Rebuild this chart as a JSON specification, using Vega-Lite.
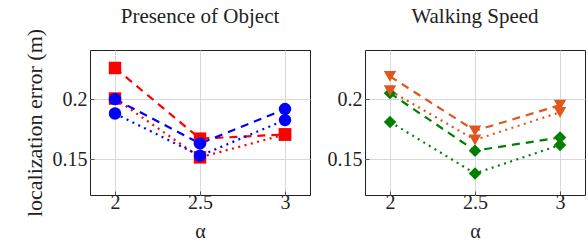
{
  "$schema": "https://vega.github.io/schema/vega-lite/v6.json",
  "padding": {"left": 22, "top": 5, "right": 0, "bottom": 0},
  "spacing": 55,
  "bounds": "flush",
  "config": {
    "font": "Times New Roman",
    "view": {"stroke": "#222222", "strokeWidth": 1},
    "axis": {
      "domain": false,
      "grid": true,
      "gridColor": "#d8d8d8",
      "gridWidth": 1,
      "tickSize": -4,
      "tickColor": "#555555",
      "labelFont": "Times New Roman",
      "titleFont": "Times New Roman",
      "labelFontSize": 20,
      "labelColor": "#222222",
      "labelPadding": 1,
      "titleFontSize": 22,
      "titleFontWeight": "normal",
      "titleColor": "#222222"
    },
    "axisX": {"titlePadding": 9, "titleFontSize": 20},
    "title": {"font": "Times New Roman", "fontSize": 21, "fontWeight": "normal", "color": "#222222", "offset": 23}
  },
  "datasets": {
    "d": [
      {"panel": "obj", "series": "A", "style": "dash", "alpha": 2, "err": 0.226},
      {"panel": "obj", "series": "A", "style": "dash", "alpha": 2.5, "err": 0.167},
      {"panel": "obj", "series": "A", "style": "dash", "alpha": 3, "err": 0.1705},
      {"panel": "obj", "series": "B", "style": "dot", "alpha": 2, "err": 0.2005},
      {"panel": "obj", "series": "B", "style": "dot", "alpha": 2.5, "err": 0.1514},
      {"panel": "obj", "series": "B", "style": "dot", "alpha": 3, "err": 0.1705},
      {"panel": "obj", "series": "C", "style": "dash", "alpha": 2, "err": 0.2},
      {"panel": "obj", "series": "C", "style": "dash", "alpha": 2.5, "err": 0.163},
      {"panel": "obj", "series": "C", "style": "dash", "alpha": 3, "err": 0.1917},
      {"panel": "obj", "series": "D", "style": "dot", "alpha": 2, "err": 0.188},
      {"panel": "obj", "series": "D", "style": "dot", "alpha": 2.5, "err": 0.1528},
      {"panel": "obj", "series": "D", "style": "dot", "alpha": 3, "err": 0.1825},
      {"panel": "walk", "series": "E", "style": "dash", "alpha": 2, "err": 0.205},
      {"panel": "walk", "series": "E", "style": "dash", "alpha": 2.5, "err": 0.157},
      {"panel": "walk", "series": "E", "style": "dash", "alpha": 3, "err": 0.168},
      {"panel": "walk", "series": "F", "style": "dot", "alpha": 2, "err": 0.181},
      {"panel": "walk", "series": "F", "style": "dot", "alpha": 2.5, "err": 0.138},
      {"panel": "walk", "series": "F", "style": "dot", "alpha": 3, "err": 0.1617},
      {"panel": "walk", "series": "G", "style": "dash", "alpha": 2, "err": 0.219},
      {"panel": "walk", "series": "G", "style": "dash", "alpha": 2.5, "err": 0.1736},
      {"panel": "walk", "series": "G", "style": "dash", "alpha": 3, "err": 0.195},
      {"panel": "walk", "series": "H", "style": "dot", "alpha": 2, "err": 0.207},
      {"panel": "walk", "series": "H", "style": "dot", "alpha": 2.5, "err": 0.166},
      {"panel": "walk", "series": "H", "style": "dot", "alpha": 3, "err": 0.189}
    ]
  },
  "hconcat": [
    {
      "width": 220,
      "height": 145,
      "title": {"text": "Presence of Object", "dy": 22},
      "data": {"name": "d"},
      "transform": [{"filter": "datum.panel == 'obj'"}],
      "encoding": {
        "x": {"field": "alpha", "type": "quantitative", "scale": {"domain": [1.853, 3.147], "nice": false, "zero": false}, "axis": {"values": [2, 2.5, 3], "title": "α", "format": "~g", "labelFont": "Times New Roman", "titleFont": "Times New Roman"}},
        "y": {"field": "err", "type": "quantitative", "scale": {"domain": [0.12, 0.241], "nice": false, "zero": false}, "axis": {"values": [0.15, 0.2], "title": "localization error (m)", "format": "~g", "titlePadding": 6, "labelPadding": 7, "labelFont": "Times New Roman"}},
        "color": {"field": "series", "type": "nominal", "scale": {"domain": ["A", "B", "C", "D", "E", "F", "G", "H"], "range": ["#ff0000", "#ff0000", "#0000ff", "#0000ff", "#008000", "#008000", "#e0561e", "#e0561e"]}, "legend": null}
      },
      "layer": [
        {
          "mark": {"type": "line", "strokeWidth": 2.2},
          "encoding": {
            "strokeDash": {"field": "style", "type": "nominal", "scale": {"domain": ["dash", "dot"], "range": [[8, 6], [2, 4.5]]}, "legend": null},
            "detail": {"field": "series"}
          }
        },
        {
          "mark": {"type": "point", "filled": true, "opacity": 1},
          "encoding": {
            "shape": {"field": "series", "type": "nominal", "scale": {"domain": ["A", "B", "C", "D", "E", "F", "G", "H"], "range": ["square", "square", "circle", "circle", "diamond", "diamond", "triangle-down", "triangle-down"]}, "legend": null},
            "size": {"field": "series", "type": "nominal", "scale": {"domain": ["A", "B", "C", "D", "E", "F", "G", "H"], "range": [155, 155, 135, 135, 110, 110, 110, 110]}, "legend": null}
          }
        }
      ]
    },
    {
      "width": 220,
      "height": 145,
      "title": "Walking Speed",
      "data": {"name": "d"},
      "transform": [{"filter": "datum.panel == 'walk'"}],
      "encoding": {
        "x": {"field": "alpha", "type": "quantitative", "scale": {"domain": [1.853, 3.147], "nice": false, "zero": false}, "axis": {"values": [2, 2.5, 3], "title": "α", "format": "~g", "labelFont": "Times New Roman", "titleFont": "Times New Roman"}},
        "y": {"field": "err", "type": "quantitative", "scale": {"domain": [0.12, 0.241], "nice": false, "zero": false}, "axis": {"values": [0.15, 0.2], "title": null, "format": "~g", "labelPadding": 7, "labelFont": "Times New Roman"}},
        "color": {"field": "series", "type": "nominal", "scale": {"domain": ["A", "B", "C", "D", "E", "F", "G", "H"], "range": ["#ff0000", "#ff0000", "#0000ff", "#0000ff", "#008000", "#008000", "#e0561e", "#e0561e"]}, "legend": null}
      },
      "layer": [
        {
          "mark": {"type": "line", "strokeWidth": 2.2},
          "encoding": {
            "strokeDash": {"field": "style", "type": "nominal", "scale": {"domain": ["dash", "dot"], "range": [[8, 6], [2, 4.5]]}, "legend": null},
            "detail": {"field": "series"}
          }
        },
        {
          "mark": {"type": "point", "filled": true, "opacity": 1},
          "encoding": {
            "shape": {"field": "series", "type": "nominal", "scale": {"domain": ["A", "B", "C", "D", "E", "F", "G", "H"], "range": ["square", "square", "circle", "circle", "diamond", "diamond", "triangle-down", "triangle-down"]}, "legend": null},
            "size": {"field": "series", "type": "nominal", "scale": {"domain": ["A", "B", "C", "D", "E", "F", "G", "H"], "range": [155, 155, 135, 135, 110, 110, 110, 110]}, "legend": null}
          }
        }
      ]
    }
  ]
}
